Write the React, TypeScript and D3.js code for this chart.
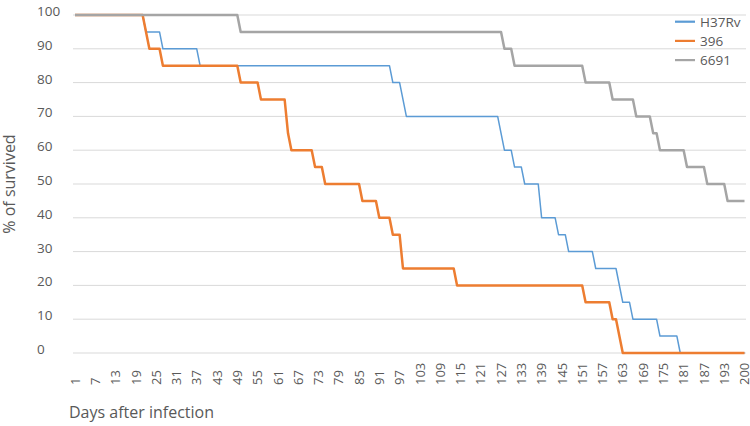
import React from "react";
import * as d3 from "d3";

// Category axis: days after infection (day 199 absent in the source table)
const days: number[] = [...d3.range(1, 199), 200];
const tickDays: number[] = [1, 7, 13, 19, 25, 31, 37, 43, 49, 55, 61, 67, 73, 79, 85, 91, 97, 103, 109, 115, 121, 127, 133, 139, 145, 151, 157, 163, 169, 175, 181, 187, 193, 200];
const yTicks: number[] = [0, 10, 20, 30, 40, 50, 60, 70, 80, 90, 100];

// Survival curves: (day, % survived) at each point where the line changes direction
const h37rvDays = [1, 21, 22, 26, 27, 37, 38, 94, 95, 97, 99, 126, 128, 130, 131, 133, 134, 138, 139, 143, 144, 146, 147, 154, 155, 161, 163, 165, 166, 173, 174, 179, 180, 200];
const h37rvVals = [100, 100, 95, 95, 90, 90, 85, 85, 80, 80, 70, 70, 60, 60, 55, 55, 50, 50, 40, 40, 35, 35, 30, 30, 25, 25, 15, 15, 10, 10, 5, 5, 0, 0];

const s396Days = [1, 21, 23, 26, 27, 49, 50, 55, 56, 63, 64, 65, 71, 72, 74, 75, 85, 86, 90, 91, 94, 95, 97, 98, 113, 114, 151, 152, 159, 160, 161, 163, 200];
const s396Vals = [100, 100, 90, 90, 85, 85, 80, 80, 75, 75, 65, 60, 60, 55, 55, 50, 50, 45, 45, 40, 40, 35, 35, 25, 25, 20, 20, 15, 15, 10, 10, 0, 0];

const s6691Days = [1, 49, 50, 127, 128, 130, 131, 151, 152, 159, 160, 166, 167, 171, 172, 173, 174, 181, 182, 187, 188, 193, 194, 200];
const s6691Vals = [100, 100, 95, 95, 90, 90, 85, 85, 80, 80, 75, 75, 70, 70, 65, 65, 60, 60, 55, 55, 50, 50, 45, 45];

const seriesNames = ["H37Rv", "396", "6691"];
const seriesColors = ["#5B9BD5", "#ED7D31", "#A5A5A5"];
const seriesWidths = [1.5, 2.5, 2.5];
const seriesDays = [h37rvDays, s396Days, s6691Days];
const seriesVals = [h37rvVals, s396Vals, s6691Vals];

const FONT = "'Open Sans', sans-serif";
const TEXT = "#595959";

export default function App() {
  const x = d3.scalePoint<number>().domain(days).range([75, 744.5]);
  const y = d3.scaleLinear().domain([0, 100]).range([353, 15]);
  const line = d3
    .line<[number, number]>()
    .x((d) => x(d[0]) as number)
    .y((d) => y(d[1]));

  return (
    <svg
      width={750}
      height={426}
      style={{ position: "absolute", left: 0, top: 0, background: "#fff" }}
      fontFamily={FONT}
    >
      <rect width={750} height={426} fill="#fff" />
      {yTicks.map((t) => (
        <g key={t}>
          <line x1={73} x2={746} y1={y(t)} y2={y(t)} stroke="#D9D9D9" strokeWidth={1} />
          <text x={37} y={y(t) + 1} fontSize={13.5} fill={TEXT}>
            {t}
          </text>
        </g>
      ))}
      {tickDays.map((d) => (
        <text
          key={d}
          transform={`translate(${x(d)},385) rotate(-90)`}
          dy="0.36em"
          fontSize={13}
          fill={TEXT}
          textAnchor="start"
        >
          {d}
        </text>
      ))}
      {seriesNames.map((name, i) => {
        const pts = seriesDays[i].map((d, j) => [d, seriesVals[i][j]] as [number, number]);
        return (
          <path
            key={name}
            d={line(pts) || ""}
            fill="none"
            stroke={seriesColors[i]}
            strokeWidth={seriesWidths[i]}
            strokeLinejoin="round"
          />
        );
      })}
      <text
        transform="translate(15,184) rotate(-90)"
        textAnchor="middle"
        fontSize={16}
        fill={TEXT}
      >
        % of survived
      </text>
      <text x={69} y={418} fontSize={16} fill={TEXT}>
        Days after infection
      </text>
      {seriesNames.map((name, i) => (
        <g key={name} transform={`translate(675,${21.7 + i * 19.2})`}>
          <line x1={0} x2={20} y1={0} y2={0} stroke={seriesColors[i]} strokeWidth={2.2} />
          <text x={25} y={5} fontSize={13.5} fill={TEXT}>
            {name}
          </text>
        </g>
      ))}
    </svg>
  );
}
